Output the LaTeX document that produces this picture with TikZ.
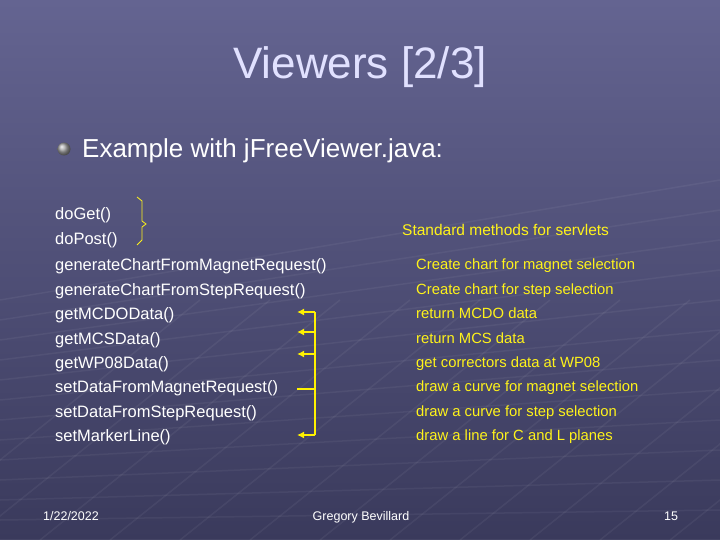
\documentclass[tikz,border=0pt]{standalone}
\usepackage{fontspec}
\setmainfont{Liberation Sans}
\usetikzlibrary{arrows.meta}
\begin{document}
\begin{tikzpicture}[x=1pt,y=-1pt,
  code/.style={anchor=base west,text=white,font=\fontsize{16.5}{18}\selectfont,inner sep=0},
  note/.style={anchor=base west,text=yellow!90!white,font=\fontsize{14.8}{16}\selectfont,inner sep=0},
  foot/.style={anchor=base,text=white,font=\fontsize{12.5}{14}\selectfont,inner sep=0},
  yl/.style={draw=yellow,line width=1.6pt},
  arr/.style={yl,-{Latex[length=7pt,width=7pt]}}]
\shade[top color={rgb,255:red,100;green,100;blue,145},bottom color={rgb,255:red,58;green,58;blue,92}] (0,0) rectangle (720,540);
\useasboundingbox (0,0) rectangle (720,540);
\foreach \i in {0,...,14}{
  \draw[white,opacity=0.05,line width=1.5pt] (-100+\i*70,540) -- (200+\i*70,300);
  \draw[white,opacity=0.05,line width=1.5pt] (0,300+\i*20) -- (720,180+\i*30);
}
\node[text={rgb,255:red,225;green,225;blue,255},font=\fontsize{44}{48}\selectfont,inner sep=0] (title) at (360,67) {Viewers [2/3]};
\shade[ball color=gray!70] (64,149) circle (6.5);
\node[anchor=base west,text=white,font=\fontsize{26}{28}\selectfont,inner sep=0] (ex) at (82,158) {Example with jFreeViewer.java:};
\foreach \n/\y/\t in {a/214/doGet(),b/238/doPost(),c/264/generateChartFromMagnetRequest(),d/289/generateChartFromStepRequest(),e/313/getMCDOData(),f/338/getMCSData(),g/362/getWP08Data(),h/386/setDataFromMagnetRequest(),i/411/setDataFromStepRequest(),j/435/setMarkerLine()}
  \node[code] (\n) at (55,\y+6) {\t};
\node[note,font=\fontsize{15.5}{17}\selectfont] (s) at (402,236) {Standard methods for servlets};
\foreach \n/\y/\t in {c/264/Create chart for magnet selection,d/289/Create chart for step selection,e/313/return MCDO data,f/338/return MCS data,g/362/get correctors data at WP08,h/386/draw a curve for magnet selection,i/411/draw a curve for step selection,j/435/draw a line for C and L planes}
  \node[note] (n\n) at (416,\y+5) {\t};
% brace
\draw[draw=yellow!90!white,line width=0.8pt] (137,197) -- (142,201) -- (142,221) -- (146,224) -- (142,227) -- (142,240) -- (137,245);
% arrows
\coordinate (top) at (315,312);
\coordinate (bot) at (315,435);
\draw[yl] (top) -- (bot);
\foreach \y in {312,332,354,435} \draw[arr] (315,\y) -- (297,\y);
\draw[yl] (315,389) -- (297,389);
\node[foot] (date) at (71,520) {1/22/2022};
\node[foot] (auth) at (361,520) {Gregory Bevillard};
\node[foot] (pg) at (671,520) {15};
\end{tikzpicture}
\end{document}
